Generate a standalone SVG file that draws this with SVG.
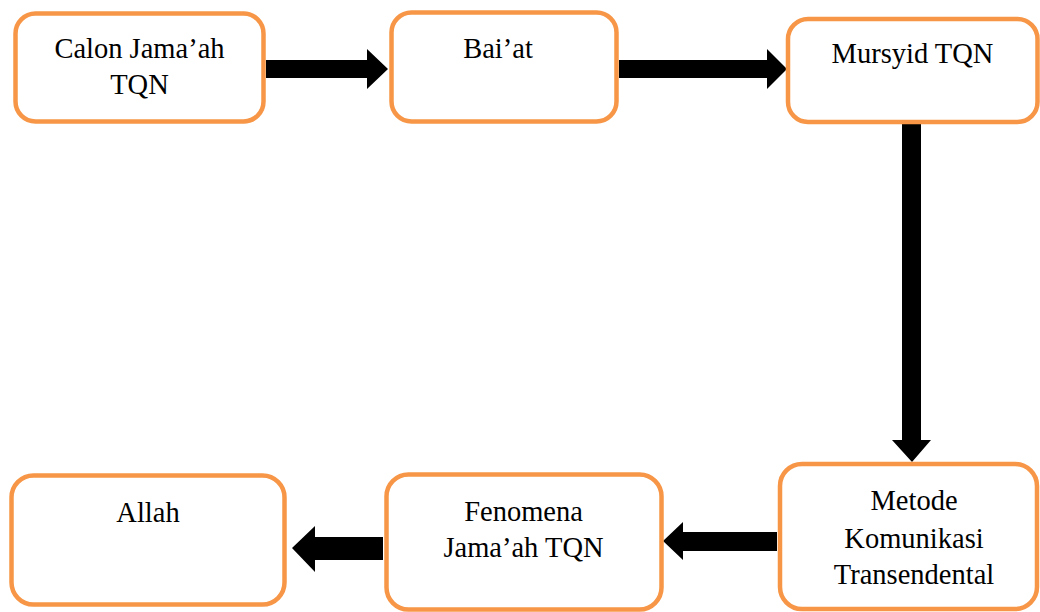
<svg xmlns="http://www.w3.org/2000/svg" width="1040" height="612" viewBox="0 0 1040 612">
<style>
.box{fill:#fff;stroke:#F79646;stroke-width:4.5}
.t{font-size:28.5px;fill:#000;text-anchor:middle}
.arr{fill:#000}
</style>
<rect width="1040" height="612" fill="#fff"/>
<g id="connectors">
<polygon class="arr" points="266,60 367,60 367,49 388,69 367,89 367,78 266,78"/>
<polygon class="arr" points="619,60 767,60 767,49 787,69 767,89 767,78 619,78"/>
<polygon class="arr" points="902,124 921,124 921,440 931,440 912,462 892,440 902,440"/>
<polygon class="arr" points="777,532 683,532 683,522 663,541 683,560 683,551 777,551"/>
<polygon class="arr" points="383,537 315,537 315,526 292,548 315,572 315,560 383,560"/>
</g>
<g font-family="Liberation Serif, Times New Roman, DejaVu Serif, serif">
<g id="calon">
<rect class="box" x="15.5" y="13.5" width="248" height="108" rx="20"/>
<text class="t" x="139.5" y="58">Calon Jama’ah</text>
<text class="t" x="139.5" y="94">TQN</text>
</g>
<g id="baiat">
<rect class="box" x="391.5" y="12.5" width="225" height="109" rx="20"/>
<text class="t" x="498" y="58">Bai’at</text>
</g>
<g id="mursyid">
<rect class="box" x="788" y="19" width="249.5" height="103" rx="20"/>
<text class="t" x="912.5" y="63">Mursyid TQN</text>
</g>
<g id="metode">
<rect class="box" x="780" y="464" width="257" height="145" rx="22"/>
<text class="t" x="914" y="510">Metode</text>
<text class="t" x="914" y="548">Komunikasi</text>
<text class="t" x="914" y="584">Transendental</text>
</g>
<g id="fenomena">
<rect class="box" x="386.5" y="474.5" width="275" height="135" rx="22"/>
<text class="t" x="523.5" y="521">Fenomena</text>
<text class="t" x="523.5" y="557">Jama’ah TQN</text>
</g>
<g id="allah">
<rect class="box" x="11.5" y="475.5" width="273" height="129" rx="22"/>
<text class="t" x="148" y="522">Allah</text>
</g>
</g>
</svg>
